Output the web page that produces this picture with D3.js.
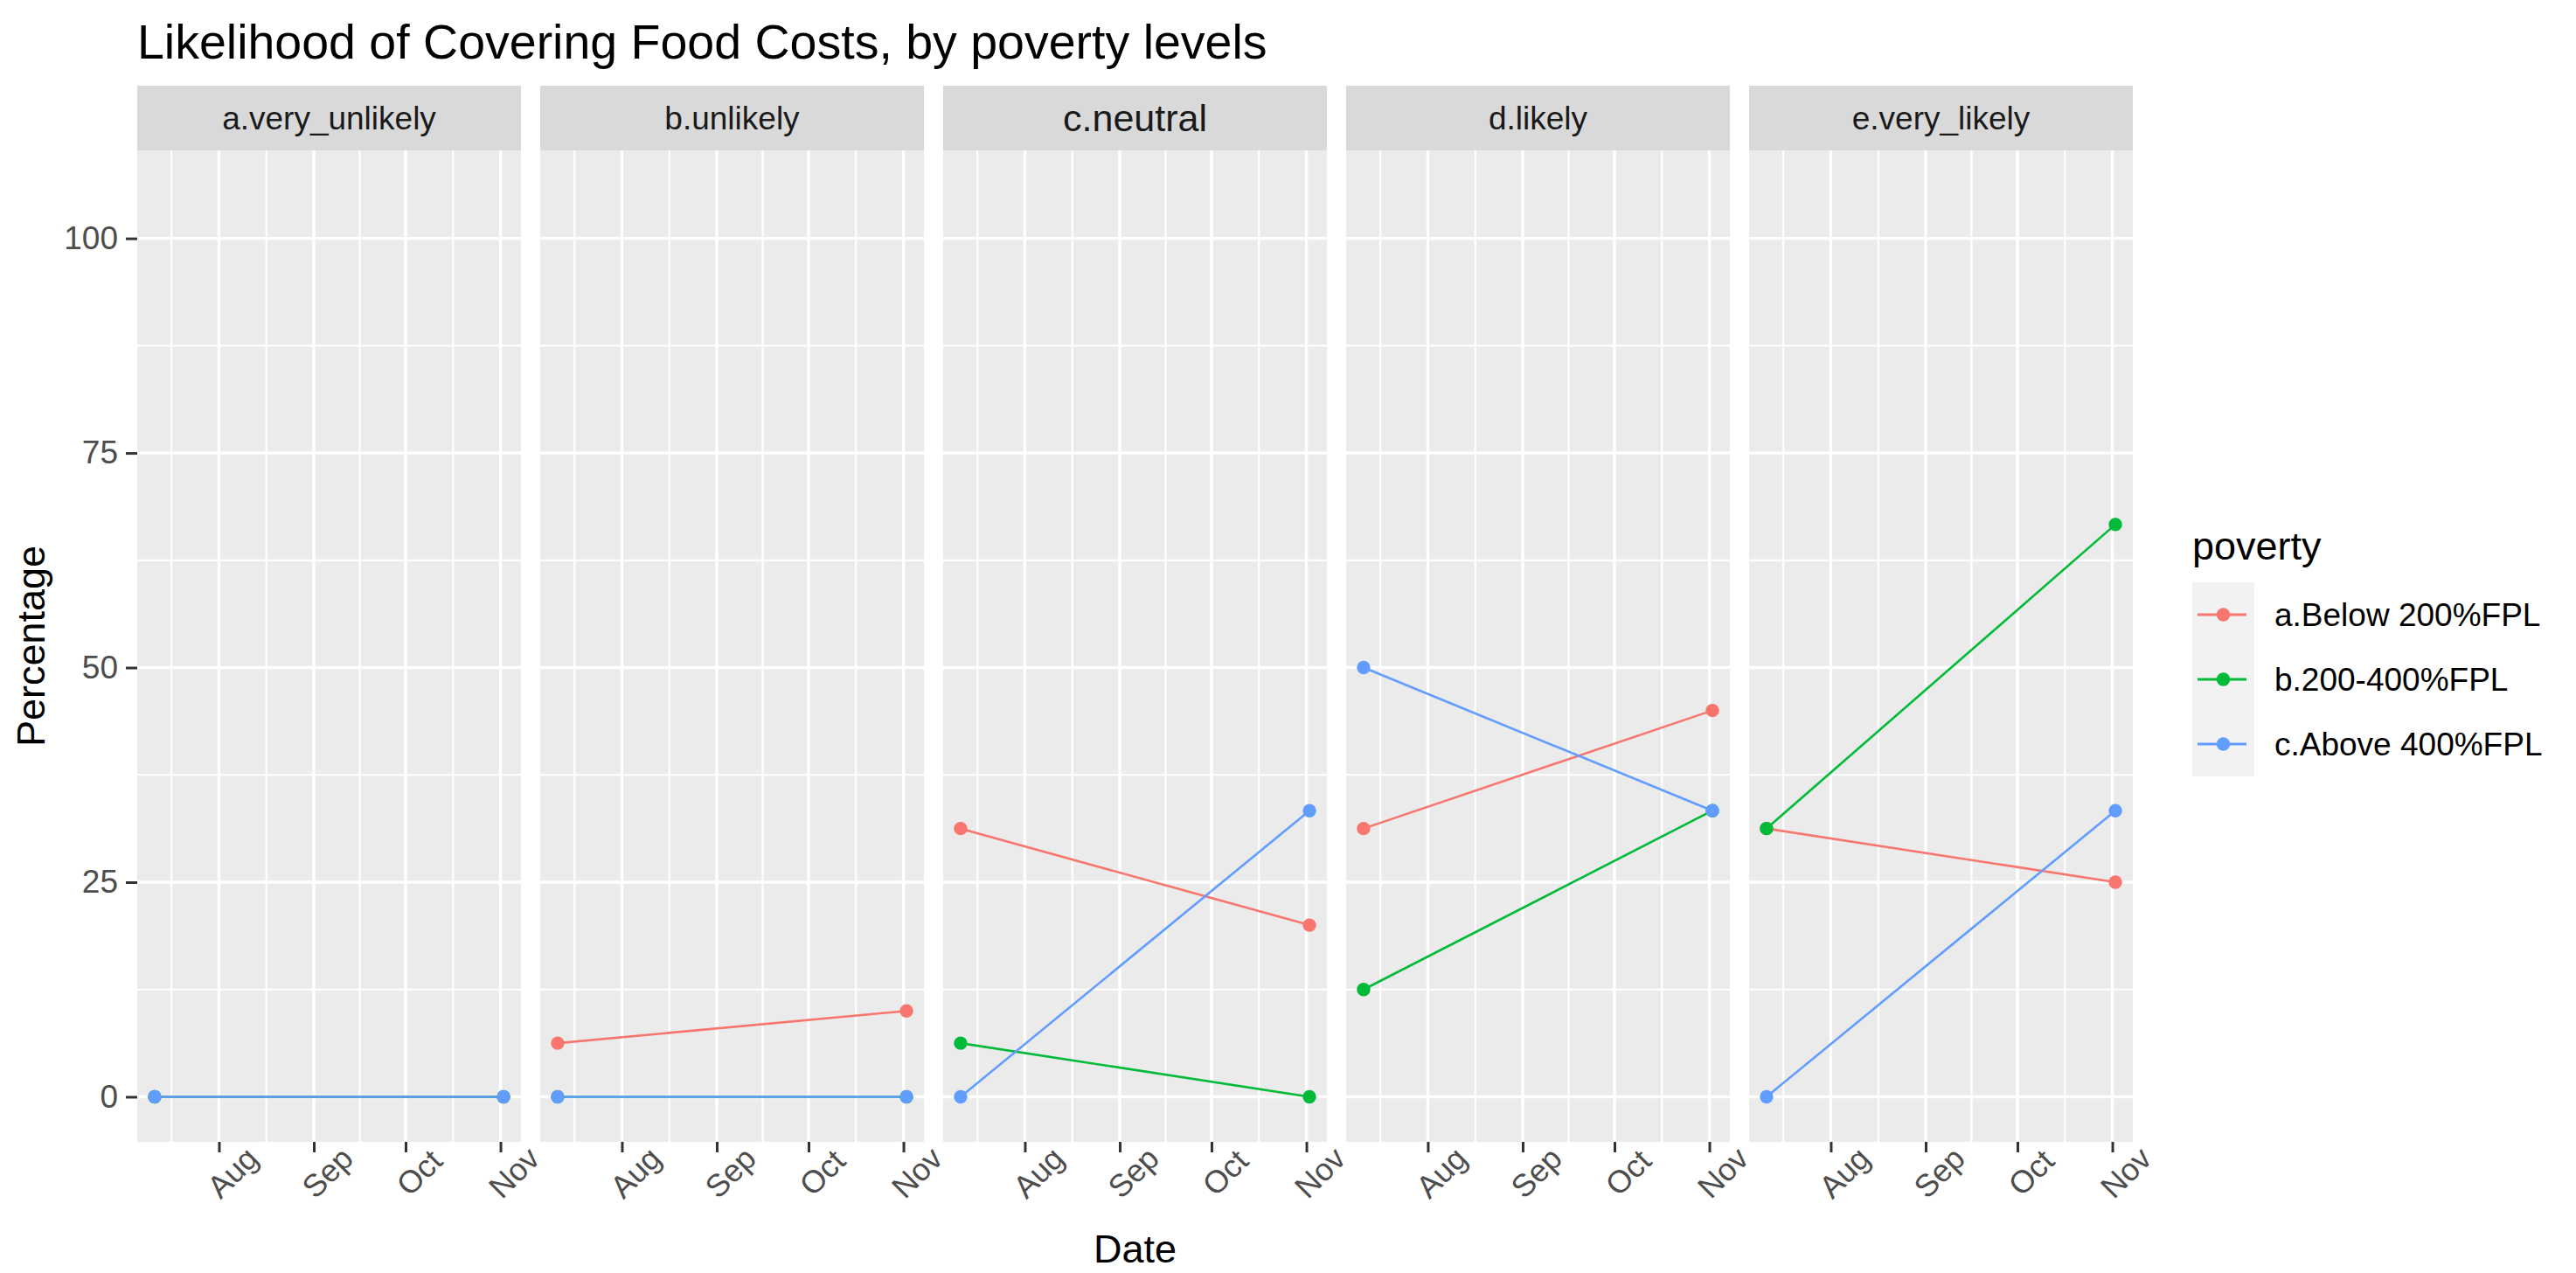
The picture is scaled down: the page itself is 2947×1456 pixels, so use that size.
<!DOCTYPE html>
<html>
<head>
<meta charset="utf-8">
<script src="https://cdn.jsdelivr.net/npm/d3@7"></script>
<style>
  html, body { margin: 0; padding: 0; background: #ffffff; }
  svg { display: block; }
  text { font-family: "Liberation Sans", Arial, sans-serif; }
</style>
</head>
<body>
<svg id="chart" width="2947" height="1456"></svg>
<script>
// ---------------- data ----------------
const facets = ["a.very_unlikely", "b.unlikely", "c.neutral", "d.likely", "e.very_likely"];
const groups = ["a.Below 200%FPL", "b.200-400%FPL", "c.Above 400%FPL"];
const dates = ["2020-07-11", "2020-11-02"];
// values per facet: [first date, last date]
const belowValues = [[0, 0], [6.25, 10], [31.25, 20], [31.25, 45], [31.25, 25]];
const midValues   = [[0, 0], [0, 0], [6.25, 0], [12.5, 33.33], [31.25, 66.67]];
const aboveValues = [[0, 0], [0, 0], [0, 33.33], [50, 33.33], [0, 33.33]];
const colors = ["#F8766D", "#00BA38", "#619CFF"];
const yTicks = [0, 25, 50, 75, 100];
const yLimits = [0, 105];
const xTickLabels = ["Aug", "Sep", "Oct", "Nov"];
const titleText = "Likelihood of Covering Food Costs, by poverty levels";
const xTitle = "Date";
const yTitle = "Percentage";
const legendTitle = "poverty";

// ---------------- layout ----------------
const svg = d3.select("#chart");
const panelLeft0 = 157, panelStep = 461, panelW = 439;
const panelTop = 172, panelBottom = 1306;
const stripTop = 98;
const FONT = "'Liberation Sans', Arial, sans-serif";

const parse = d3.utcParse("%Y-%m-%d");
const t = dates.map(parse);
const span = t[1] - t[0];
const x = d3.scaleUtc()
  .domain([new Date(+t[0] - 0.05 * span), new Date(+t[1] + 0.05 * span)])
  .range([0, panelW]);

const yr = yLimits[1] - yLimits[0];
const y = d3.scaleLinear()
  .domain([yLimits[0] - 0.05 * yr, yLimits[1] + 0.05 * yr])
  .range([panelBottom, panelTop]);

// major x breaks: month starts inside domain
const xMajor = d3.utcMonth.range(x.domain()[0], x.domain()[1]);
// minor breaks as ggplot's regular_minor_breaks
function minorBreaks(maj, lim) {
  let b = maj.slice();
  const bd = b[1] - b[0];
  if (lim[0] < b[0]) b = [b[0] - bd].concat(b);
  if (lim[1] > b[b.length - 1]) b = b.concat([b[b.length - 1] + bd]);
  const out = [];
  for (let i = 0; i < b.length - 1; i++) out.push((b[i] + b[i + 1]) / 2);
  return out.filter(v => v > lim[0] && v < lim[1]);
}
const xMinor = minorBreaks(xMajor.map(d => +d), x.domain().map(d => +d)).map(v => new Date(v));
const yMinor = minorBreaks(yTicks, y.domain());

const seriesValues = [belowValues, midValues, aboveValues];

// title
svg.append("text")
  .attr("x", 157).attr("y", 67)
  .attr("font-size", 55.5).attr("fill", "#000")
  .text(titleText);

facets.forEach((f, i) => {
  const px = panelLeft0 + i * panelStep;
  const g = svg.append("g").attr("transform", `translate(${px},0)`);

  // strip
  g.append("rect").attr("x", 0).attr("y", stripTop)
    .attr("width", panelW).attr("height", panelTop - stripTop)
    .attr("fill", "#D9D9D9");
  g.append("text")
    .attr("x", panelW / 2).attr("y", (stripTop + panelTop) / 2)
    .attr("dy", "0.35em")
    .attr("text-anchor", "middle")
    .attr("font-size", f === "c.neutral" ? 43 : 37)
    .attr("fill", "#1A1A1A")
    .text(f);

  // panel bg
  g.append("rect").attr("x", 0).attr("y", panelTop)
    .attr("width", panelW).attr("height", panelBottom - panelTop)
    .attr("fill", "#EBEBEB");

  // minor grid
  g.selectAll(".ymin").data(yMinor).enter().append("line")
    .attr("x1", 0).attr("x2", panelW)
    .attr("y1", d => y(d)).attr("y2", d => y(d))
    .attr("stroke", "#fff").attr("stroke-width", 2.2);
  g.selectAll(".xmin").data(xMinor).enter().append("line")
    .attr("y1", panelTop).attr("y2", panelBottom)
    .attr("x1", d => x(d)).attr("x2", d => x(d))
    .attr("stroke", "#fff").attr("stroke-width", 2.2);
  // major grid
  g.selectAll(".ymaj").data(yTicks).enter().append("line")
    .attr("x1", 0).attr("x2", panelW)
    .attr("y1", d => y(d)).attr("y2", d => y(d))
    .attr("stroke", "#fff").attr("stroke-width", 3.4);
  g.selectAll(".xmaj").data(xMajor).enter().append("line")
    .attr("y1", panelTop).attr("y2", panelBottom)
    .attr("x1", d => x(d)).attr("x2", d => x(d))
    .attr("stroke", "#fff").attr("stroke-width", 3.4);

  // lines
  const line = d3.line().x(d => x(d.date)).y(d => y(d.value));
  const seriesData = groups.map((gr, k) =>
    seriesValues[k][i].map((v, j) => ({ date: t[j], value: v })));
  seriesData.forEach((sd, k) => {
    g.append("path").datum(sd)
      .attr("d", line).attr("fill", "none")
      .attr("stroke", colors[k]).attr("stroke-width", 2.6);
  });
  seriesData.forEach((sd, k) => {
    g.selectAll(null).data(sd).enter().append("circle")
      .attr("cx", d => x(d.date)).attr("cy", d => y(d.value))
      .attr("r", 7.7).attr("fill", colors[k]);
  });

  // x axis
  const xa = g.append("g").attr("transform", `translate(0,${panelBottom})`)
    .call(d3.axisBottom(x).tickValues(xMajor).tickSize(12)
      .tickFormat((d, k) => xTickLabels[k]));
  xa.select(".domain").remove();
  xa.selectAll(".tick line").attr("stroke", "#333333").attr("stroke-width", 3);
  xa.selectAll(".tick text")
    .attr("x", 0).attr("y", 0).attr("dy", "0.35em")
    .attr("text-anchor", "middle")
    .attr("transform", "translate(15,35) rotate(-45)")
    .attr("font-size", 36).attr("font-family", FONT).attr("fill", "#4D4D4D");
});

// y axis
const ya = svg.append("g").attr("transform", `translate(${panelLeft0},0)`)
  .call(d3.axisLeft(y).tickValues(yTicks).tickSize(13).tickPadding(9));
ya.select(".domain").remove();
ya.selectAll(".tick line").attr("stroke", "#333333").attr("stroke-width", 3);
ya.selectAll(".tick text").attr("font-size", 37).attr("font-family", FONT).attr("fill", "#4D4D4D");

// axis titles
const plotRight = panelLeft0 + (facets.length - 1) * panelStep + panelW;
svg.append("text")
  .attr("x", (panelLeft0 + plotRight) / 2).attr("y", 1444)
  .attr("text-anchor", "middle").attr("font-size", 45).attr("fill", "#000")
  .text(xTitle);
svg.append("text")
  .attr("transform", `translate(51,${(panelTop + panelBottom) / 2}) rotate(-90)`)
  .attr("text-anchor", "middle").attr("font-size", 45).attr("fill", "#000")
  .text(yTitle);

// legend
const lg = svg.append("g").attr("transform", "translate(2508,0)");
lg.append("text").attr("x", 0).attr("y", 640).attr("font-size", 45).attr("fill", "#000").text(legendTitle);
const keyW = 71, keyH = 74, keyTop = 666;
groups.forEach((gr, k) => {
  const cy = keyTop + keyH * k + keyH / 2;
  lg.append("rect").attr("x", 0).attr("y", keyTop + keyH * k)
    .attr("width", keyW).attr("height", keyH).attr("fill", "#F2F2F2");
  lg.append("line").attr("x1", 6).attr("x2", keyW - 9)
    .attr("y1", cy).attr("y2", cy)
    .attr("stroke", colors[k]).attr("stroke-width", 3);
  lg.append("circle").attr("cx", keyW / 2).attr("cy", cy).attr("r", 7.7).attr("fill", colors[k]);
  lg.append("text").attr("x", 94).attr("y", cy).attr("dy", "0.35em")
    .attr("font-size", 37).attr("fill", "#000").text(gr);
});
</script>
</body>
</html>
